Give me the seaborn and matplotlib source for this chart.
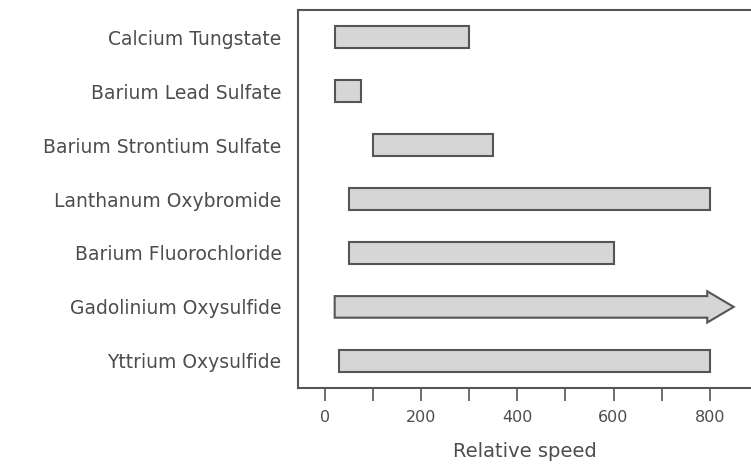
import matplotlib
matplotlib.use("Agg")
import matplotlib.pyplot as plt
import matplotlib.patches as mpatches
import seaborn as sns
import pandas as pd

# -----------------------------
# DATA
# -----------------------------
phosphors = [
    "Calcium Tungstate",
    "Barium Lead Sulfate",
    "Barium Strontium Sulfate",
    "Lanthanum Oxybromide",
    "Barium Fluorochloride",
    "Gadolinium Oxysulfide",
    "Yttrium Oxysulfide",
]
speed_low = [20, 20, 100, 50, 50, 20, 30]
speed_high = [300, 75, 350, 800, 600, 850, 800]
open_ended = [False, False, False, False, False, True, False]

xticks = [0, 100, 200, 300, 400, 500, 600, 700, 800]
xticklabels = ["0", "", "200", "", "400", "", "600", "", "800"]

df = pd.DataFrame({"phosphor": phosphors, "low": speed_low, "high": speed_high})
df["span"] = df["high"] - df["low"]

# -----------------------------
# PLOT
# -----------------------------
sns.set_theme(style="white")
plt.rcParams["font.family"] = ["DejaVu Sans"]

grey_text = "#4d4d4d"
edge = "#555555"
fill = "#d6d6d6"

fig = plt.figure(figsize=(7.51, 4.65), dpi=100)
ax = fig.add_axes([0.397, 0.166, 0.603, 0.812])

sns.barplot(data=df, x="span", y="phosphor", orient="h", color=fill,
            width=0.4, edgecolor=edge, linewidth=1.5, saturation=1, ax=ax)

# shift bars to start at the low value; replace the open-ended one by an arrow
for i, patch in enumerate(ax.patches[:len(phosphors)]):
    patch.set_x(speed_low[i])
    if open_ended[i]:
        patch.set_visible(False)
        arrow = mpatches.FancyArrow(speed_low[i], i, speed_high[i] - speed_low[i], 0,
                                    width=0.4, head_width=0.58, head_length=55,
                                    length_includes_head=True,
                                    facecolor=fill, edgecolor=edge, linewidth=1.5)
        ax.add_patch(arrow)

ax.set_xlim(-56, 886)
ax.set_ylim(len(phosphors) - 0.5, -0.5)

ax.set_xticks(xticks)
ax.set_xticklabels(xticklabels)
ax.tick_params(axis="x", direction="out", length=9, width=1.2, color=edge,
               labelcolor=grey_text, labelsize=11.5, pad=7, bottom=True)
ax.tick_params(axis="y", length=0, labelcolor=grey_text, labelsize=13.5, pad=12)

ax.set_xlabel("Relative speed", color=grey_text, fontsize=14, labelpad=12)
ax.set_ylabel("")

for side in ["left", "top", "bottom"]:
    ax.spines[side].set_color(edge)
    ax.spines[side].set_linewidth(1.5)
ax.spines["right"].set_visible(False)

fig.savefig("out.png", dpi=100)
